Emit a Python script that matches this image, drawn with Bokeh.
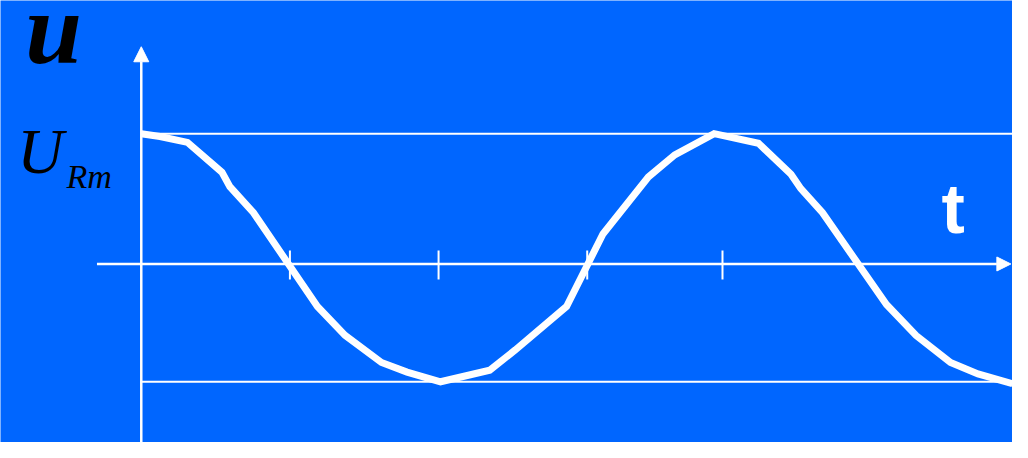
from bokeh.plotting import figure
from bokeh.models import Range1d, Arrow, NormalHead
from bokeh.core.properties import value
from bokeh.embed import file_html
from bokeh.resources import INLINE

# ---- data (t in tick periods, u normalised to the amplitude U_Rm) ----
t_vals = [0.0, 0.126, 0.311, 0.543, 0.596, 0.755, 1.185, 1.371, 1.616, 1.788,
          2.013, 2.344, 2.517, 2.861, 3.106, 3.411, 3.589, 3.854, 4.152, 4.371,
          4.437, 4.583, 5.013, 5.212, 5.444, 5.629, 5.861]
u_vals = [1.0, 0.978, 0.933, 0.704, 0.593, 0.393, -0.326, -0.548, -0.756, -0.830,
          -0.904, -0.815, -0.659, -0.326, 0.230, 0.667, 0.837, 1.0, 0.926, 0.689,
          0.578, 0.393, -0.311, -0.548, -0.756, -0.844, -0.919]
tick_t = [1.0, 2.0, 3.0, 3.91]
u_max = 1.0
u_min = -0.904

BG = "#0066FF"
W = "white"

p = figure(width=1012, height=442, output_backend="svg", toolbar_location=None,
           x_range=Range1d(-0.947, 5.861), y_range=Range1d(-1.370, 2.022),
           min_border=0, background_fill_color=BG, border_fill_color=BG,
           outline_line_color=None)
p.axis.visible = False
p.grid.visible = False

# amplitude reference lines
p.segment(x0=[0, 0], y0=[u_max, u_min], x1=[5.861, 5.861], y1=[u_max, u_min],
          line_color=W, line_width=2)

# axes with arrows
head_v = NormalHead(size=15, fill_color=W, line_color=W)
p.add_layout(Arrow(end=head_v, x_start=0, y_start=-1.40, x_end=0, y_end=1.667,
                   line_color=W, line_width=2.5))
head_h = NormalHead(size=14, fill_color=W, line_color=W)
p.add_layout(Arrow(end=head_h, x_start=-0.298, y_start=0, x_end=5.85, y_end=0,
                   line_color=W, line_width=2.5))

# ticks on t axis
p.segment(x0=tick_t, y0=[0.104] * len(tick_t), x1=tick_t, y1=[-0.119] * len(tick_t),
          line_color=W, line_width=2)

# waveform
p.line(t_vals, u_vals, line_color=W, line_width=7, line_join="miter")

# labels
p.text(x=[-0.781], y=[1.81], text=["u"], text_font=value("Liberation Serif"),
       text_font_style="bold italic", text_font_size="102px",
       text_color="black", text_baseline="alphabetic")
p.text(x=[-0.834], y=[0.867], text=["U"], text_font=value("Liberation Serif"),
       text_font_style="italic", text_font_size="64px",
       text_color="black", text_baseline="alphabetic")
p.text(x=[-0.503], y=[0.675], text=["Rm"], text_font=value("Liberation Serif"),
       text_font_style="italic", text_font_size="34px",
       text_color="black", text_baseline="alphabetic")
p.text(x=[5.384], y=[0.422], text=["t"], text_font=value("Liberation Sans"),
       text_font_style="bold", text_font_size="70px",
       text_color=W, text_baseline="alphabetic")

open("out.html", "w").write(file_html(p, INLINE))
